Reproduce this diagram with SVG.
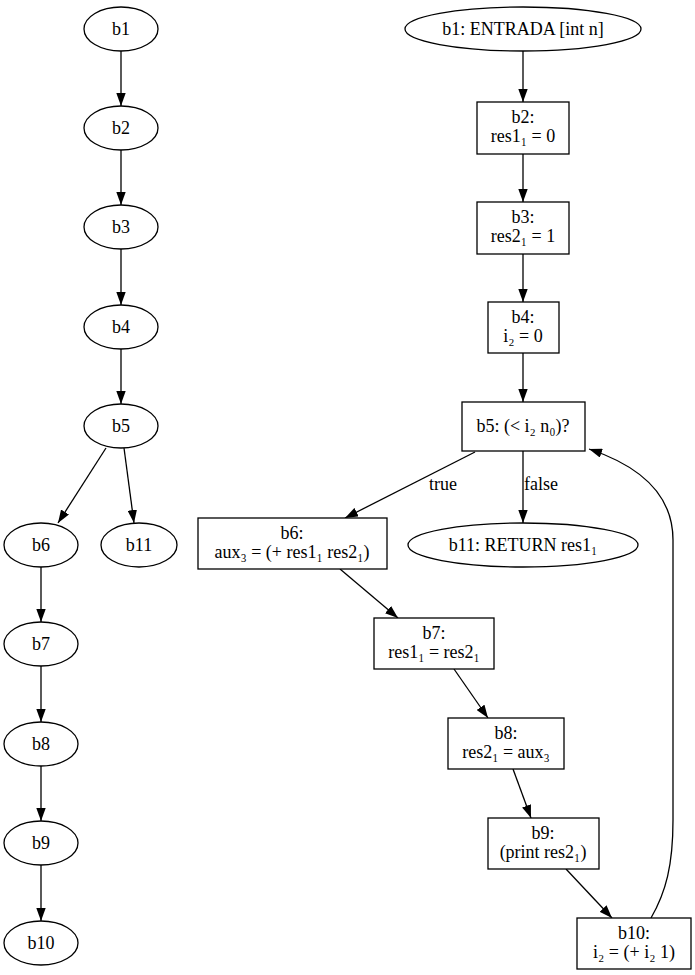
<svg xmlns="http://www.w3.org/2000/svg" width="695" height="975" viewBox="0 0 695 975">
<defs>
<marker id="ah" viewBox="0 0 13 9.4" refX="13" refY="4.7" markerWidth="13" markerHeight="9.4" markerUnits="userSpaceOnUse" orient="auto">
<path d="M0,0 L13,4.7 L0,9.4 Z" fill="#000"/>
</marker>
<style>
text{font-family:"Liberation Serif","DejaVu Serif",serif;font-size:18px;fill:#000;text-anchor:middle}
ellipse,rect{fill:#fff;stroke:#000;stroke-width:1.3}
#edges path{fill:none;stroke:#000;stroke-width:1.3;marker-end:url(#ah)}
</style>
</defs>
<g id="edges">
<path d="M121,51 V106"/>
<path d="M121,150 V205"/>
<path d="M121,249 V305"/>
<path d="M121,349 V404"/>
<path d="M106,448 L58,523"/>
<path d="M124,448 L134,523"/>
<path d="M41,567 V622"/>
<path d="M41,666 V722"/>
<path d="M41,766 V821"/>
<path d="M41,865 V921"/>
<path d="M523,51 V102"/>
<path d="M523,154 V202"/>
<path d="M523,254 V302"/>
<path d="M523,353 V402"/>
<path d="M523,451 V523"/>
<path d="M475,452 L345,518"/>
<path d="M340,569 L398,618"/>
<path d="M454,669 L488,718"/>
<path d="M513,769 L531,818"/>
<path d="M566,869 L612,918"/>
<path d="M651,918 C666,892 673,865 673,820 L673,540 C673,495 640,466 589,449"/>
<text x="443" y="490">true</text>
<text x="541" y="490">false</text>
</g>
<g id="L_b1"><ellipse cx="121" cy="29" rx="37" ry="22"/><text x="121" y="35">b1</text></g>
<g id="L_b2"><ellipse cx="121" cy="128" rx="37" ry="22"/><text x="121" y="134">b2</text></g>
<g id="L_b3"><ellipse cx="121" cy="227" rx="37" ry="22"/><text x="121" y="233">b3</text></g>
<g id="L_b4"><ellipse cx="121" cy="327" rx="37" ry="22"/><text x="121" y="333">b4</text></g>
<g id="L_b5"><ellipse cx="121" cy="426" rx="37" ry="22"/><text x="121" y="432">b5</text></g>
<g id="L_b6"><ellipse cx="41" cy="545" rx="37" ry="22"/><text x="41" y="551">b6</text></g>
<g id="L_b11"><ellipse cx="139" cy="545" rx="38" ry="22"/><text x="139" y="551">b11</text></g>
<g id="L_b7"><ellipse cx="41" cy="644" rx="37" ry="22"/><text x="41" y="650">b7</text></g>
<g id="L_b8"><ellipse cx="41" cy="744" rx="37" ry="22"/><text x="41" y="750">b8</text></g>
<g id="L_b9"><ellipse cx="41" cy="843" rx="37" ry="22"/><text x="41" y="849">b9</text></g>
<g id="L_b10"><ellipse cx="41" cy="943" rx="37" ry="22"/><text x="41" y="949">b10</text></g>
<g id="R_b1"><ellipse cx="523" cy="29" rx="118" ry="22"/><text x="523" y="35">b1: ENTRADA [int n]</text></g>
<g id="R_b2"><rect x="477" y="102" width="92" height="52"/><text x="523" y="123">b2:</text><text x="523" y="142">res1₁ = 0</text></g>
<g id="R_b3"><rect x="477" y="202" width="92" height="52"/><text x="523" y="223">b3:</text><text x="523" y="242">res2₁ = 1</text></g>
<g id="R_b4"><rect x="488" y="302" width="71" height="51"/><text x="523" y="323">b4:</text><text x="523" y="342">i₂ = 0</text></g>
<g id="R_b5"><rect x="462" y="402" width="123" height="49"/><text x="523" y="432">b5: (&lt; i₂  n₀)?</text></g>
<g id="R_b6"><rect x="198" y="518" width="189" height="51"/><text x="292" y="539">b6:</text><text x="292" y="558">aux₃ = (+ res1₁  res2₁)</text></g>
<g id="R_b11"><ellipse cx="523" cy="545" rx="115" ry="22"/><text x="523" y="551">b11: RETURN res1₁</text></g>
<g id="R_b7"><rect x="374" y="618" width="120" height="51"/><text x="434" y="639">b7:</text><text x="434" y="658">res1₁ = res2₁</text></g>
<g id="R_b8"><rect x="448" y="718" width="116" height="51"/><text x="506" y="739">b8:</text><text x="506" y="758">res2₁ = aux₃</text></g>
<g id="R_b9"><rect x="488" y="818" width="111" height="51"/><text x="543" y="839">b9:</text><text x="543" y="858">(print res2₁)</text></g>
<g id="R_b10"><rect x="577" y="918" width="114" height="51"/><text x="634" y="939">b10:</text><text x="634" y="958">i₂ = (+ i₂  1)</text></g>
</svg>
